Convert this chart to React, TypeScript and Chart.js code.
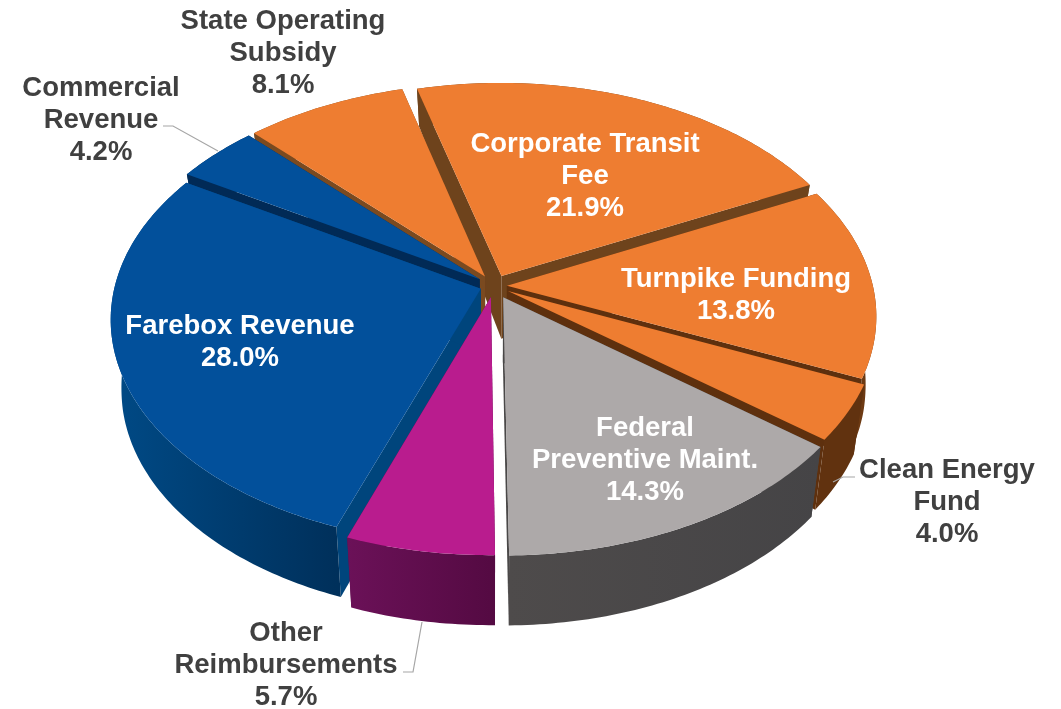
import React, { useEffect, useRef } from "react";
import { Chart, registerables } from "chart.js";

Chart.register(...registerables);

const categories = ["Farebox Revenue", "Commercial Revenue", "State Operating Subsidy", "Corporate Transit Fee", "Turnpike Funding", "Clean Energy Fund", "Federal Preventive Maint.", "Other Reimbursements"];
const shares = [28.0, 4.2, 8.1, 21.9, 13.8, 4.0, 14.3, 5.7];
const labelLines = [["Farebox Revenue"], ["Commercial", "Revenue"], ["State Operating", "Subsidy"], ["Corporate Transit", "Fee"], ["Turnpike Funding"], ["Clean Energy", "Fund"], ["Federal", "Preventive Maint."], ["Other", "Reimbursements"]];

const topColors = ["#02509B", "#02509B", "#EE7D31", "#EE7D31", "#EE7D31", "#EE7D31", "#ADA9A9", "#B91C8E"];
const explode = [13, 17, 17, 17, 12, 15, 19, 17];
const edgeWall = ["#00457C", "#012A56", "#7A4A20", "#6E431C", "#5E300E", "#5E300E", "#4A4848", "#5A0B48"];
const outerLeft = ["#004A86", "#012A56", "#7A4A20", "#6E431C", "#6D3A13", "#61320F", "#4E4B4B", "#6B1158"];
const outerRight = ["#00305B", "#012A56", "#7A4A20", "#6E431C", "#6D3A13", "#61320F", "#454446", "#540A42"];

const labelCenters = [[240, 326], [101, 88], [283, 21], [585, 144], [736, 279], [947, 470], [645, 428], [286, 633]];
const labelOnSlice = [true, false, false, true, true, false, true, false];
const leaders = [
  [[163, 126], [173, 126], [218, 151]],
  [[855, 477], [843, 477], [833, 482]],
  [[403, 672], [413, 672], [422, 622]],
];

const VIEW = { a: 366, b: 221, k: 0.132, converge: 0.028 };
const LINE_HEIGHT = 32;

const wallHeight = (yn: number) => Math.min(70, 64 + 26 * yn);

const perspectivePie = {
  id: "perspectivePie",
  beforeDatasetsDraw(chart: any) {
    const ctx = chart.ctx;
    const meta = chart.getDatasetMeta(0);
    const items = meta.data.map((el: any, i: number) => {
      const mid = (el.startAngle + el.endAngle) / 2;
      return { el, i, mid };
    });
    items.sort((p: any, q: any) => Math.sin(p.mid) - Math.sin(q.mid));

    for (const { el, i, mid } of items) {
      const R = el.outerRadius;
      const off = (el.options.offset || 0) / R;
      const ox = Math.cos(mid) * off, oy = Math.sin(mid) * off;
      const proj = (xn: number, yn: number) => {
        const s = 1 / (1 - VIEW.k * yn);
        const dx = VIEW.a * xn * s;
        const py = el.y + VIEW.b * yn * s;
        return { x: el.x + dx, y: py, bx: el.x + dx * (1 - VIEW.converge), b: py + wallHeight(yn) };
      };
      const apex = proj(ox, oy);
      const rim: any[] = [];
      const steps = Math.max(4, Math.ceil((el.endAngle - el.startAngle) / 0.015));
      for (let j = 0; j <= steps; j++) {
        const t = el.startAngle + ((el.endAngle - el.startAngle) * j) / steps;
        rim.push(proj(ox + Math.cos(t), oy + Math.sin(t)));
      }
      const xs = rim.map((p) => p.x);
      const minX = Math.min(...xs), maxX = Math.max(...xs);

      const quad = (p: any, q: any, color: string) => {
        ctx.beginPath();
        ctx.moveTo(p.x, p.y);
        ctx.lineTo(q.x, q.y);
        ctx.lineTo(q.bx, q.b);
        ctx.lineTo(p.bx, p.b);
        ctx.closePath();
        ctx.fillStyle = color;
        ctx.fill();
      };

      ctx.save();
      quad(apex, rim[0], edgeWall[i]);
      quad(apex, rim[rim.length - 1], edgeWall[i]);

      const grad = ctx.createLinearGradient(minX, 0, maxX, 0);
      grad.addColorStop(0, outerLeft[i]);
      grad.addColorStop(1, outerRight[i]);
      ctx.beginPath();
      rim.forEach((p, j) => (j ? ctx.lineTo(p.x, p.y) : ctx.moveTo(p.x, p.y)));
      for (let j = rim.length - 1; j >= 0; j--) ctx.lineTo(rim[j].bx, rim[j].b);
      ctx.closePath();
      ctx.fillStyle = grad;
      ctx.fill();

      ctx.beginPath();
      ctx.moveTo(apex.x, apex.y);
      for (const p of rim) ctx.lineTo(p.x, p.y);
      ctx.closePath();
      ctx.fillStyle = el.options.backgroundColor;
      ctx.fill();
      ctx.restore();
    }
    return false;
  },
  afterDraw(chart: any) {
    const ctx = chart.ctx;
    ctx.save();
    ctx.strokeStyle = "#A6A6A6";
    ctx.lineWidth = 1.2;
    for (const path of leaders) {
      ctx.beginPath();
      path.forEach(([x, y], i) => (i ? ctx.lineTo(x, y) : ctx.moveTo(x, y)));
      ctx.stroke();
    }
    ctx.font = 'bold 27.5px "Liberation Sans", Arial, sans-serif';
    ctx.textAlign = "center";
    ctx.textBaseline = "middle";
    labelLines.forEach((lines, i) => {
      const all = [...lines, `${shares[i].toFixed(1)}%`];
      ctx.fillStyle = labelOnSlice[i] ? "#FFFFFF" : "#404040";
      all.forEach((line, n) => ctx.fillText(line, labelCenters[i][0], labelCenters[i][1] + n * LINE_HEIGHT));
    });
    ctx.restore();
  },
};

export default function App() {
  const ref = useRef<HTMLCanvasElement>(null);
  useEffect(() => {
    const chart = new Chart(ref.current as HTMLCanvasElement, {
      type: "pie",
      data: {
        labels: categories,
        datasets: [{ data: shares, backgroundColor: topColors, offset: explode, borderWidth: 0, radius: 340 } as any],
      },
      options: {
        responsive: false,
        animation: false,
        rotation: 199.9,
        layout: { padding: { left: 0, right: 73, top: 0, bottom: 137 } },
        plugins: { legend: { display: false }, tooltip: { enabled: false } },
      },
      plugins: [perspectivePie as any],
    });
    return () => chart.destroy();
  }, []);
  return (
    <canvas
      ref={ref}
      width={1061}
      height={709}
      style={{ position: "fixed", left: 0, top: 0, display: "block", background: "#FFFFFF" }}
    />
  );
}
